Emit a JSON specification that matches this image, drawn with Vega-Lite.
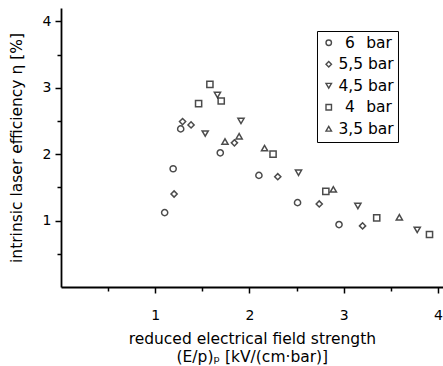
{
  "$schema": "https://vega.github.io/schema/vega-lite/v6.json",
  "width": 381.7,
  "height": 279,
  "autosize": "none",
  "padding": {"left": 61, "top": 8, "right": 0, "bottom": 79},
  "config": {
    "view": {"stroke": null},
    "font": "DejaVu Sans",
    "axis": {
      "domainColor": "black", "domainWidth": 1.8, "tickColor": "black", "tickWidth": 1.5,
      "labelColor": "black", "titleColor": "black", "labelFontSize": 14, "titleFontSize": 15.5,
      "titleFontWeight": "normal", "grid": false, "labelPadding": 4, "format": "d"
    }
  },
  "data": {"values": [
    {"E": 1.10, "eta": 1.12, "series": "\u200b\u2008\u200a6\u2008\u200a bar"},
    {"E": 1.19, "eta": 1.78, "series": "\u200b\u2008\u200a6\u2008\u200a bar"},
    {"E": 1.27, "eta": 2.38, "series": "\u200b\u2008\u200a6\u2008\u200a bar"},
    {"E": 1.69, "eta": 2.02, "series": "\u200b\u2008\u200a6\u2008\u200a bar"},
    {"E": 2.10, "eta": 1.68, "series": "\u200b\u2008\u200a6\u2008\u200a bar"},
    {"E": 2.51, "eta": 1.27, "series": "\u200b\u2008\u200a6\u2008\u200a bar"},
    {"E": 2.95, "eta": 0.94, "series": "\u200b\u2008\u200a6\u2008\u200a bar"},
    {"E": 1.20, "eta": 1.40, "series": "5,5 bar"},
    {"E": 1.29, "eta": 2.49, "series": "5,5 bar"},
    {"E": 1.38, "eta": 2.44, "series": "5,5 bar"},
    {"E": 1.84, "eta": 2.17, "series": "5,5 bar"},
    {"E": 2.30, "eta": 1.66, "series": "5,5 bar"},
    {"E": 2.74, "eta": 1.25, "series": "5,5 bar"},
    {"E": 3.20, "eta": 0.92, "series": "5,5 bar"},
    {"E": 1.53, "eta": 2.31, "series": "4,5 bar"},
    {"E": 1.66, "eta": 2.89, "series": "4,5 bar"},
    {"E": 1.91, "eta": 2.50, "series": "4,5 bar"},
    {"E": 2.52, "eta": 1.72, "series": "4,5 bar"},
    {"E": 3.15, "eta": 1.22, "series": "4,5 bar"},
    {"E": 3.78, "eta": 0.86, "series": "4,5 bar"},
    {"E": 1.46, "eta": 2.76, "series": "\u200b\u2008\u200a4\u2008\u200a bar"},
    {"E": 1.58, "eta": 3.05, "series": "\u200b\u2008\u200a4\u2008\u200a bar"},
    {"E": 1.70, "eta": 2.80, "series": "\u200b\u2008\u200a4\u2008\u200a bar"},
    {"E": 2.25, "eta": 2.00, "series": "\u200b\u2008\u200a4\u2008\u200a bar"},
    {"E": 2.81, "eta": 1.44, "series": "\u200b\u2008\u200a4\u2008\u200a bar"},
    {"E": 3.35, "eta": 1.04, "series": "\u200b\u2008\u200a4\u2008\u200a bar"},
    {"E": 3.91, "eta": 0.79, "series": "\u200b\u2008\u200a4\u2008\u200a bar"},
    {"E": 1.74, "eta": 2.19, "series": "3,5 bar"},
    {"E": 1.89, "eta": 2.27, "series": "3,5 bar"},
    {"E": 2.16, "eta": 2.09, "series": "3,5 bar"},
    {"E": 2.89, "eta": 1.47, "series": "3,5 bar"},
    {"E": 3.59, "eta": 1.05, "series": "3,5 bar"}
  ]},
  "mark": {"type": "point", "filled": false, "stroke": "black", "strokeWidth": 1.5, "size": 38},
  "encoding": {
    "x": {
      "field": "E", "type": "quantitative",
      "scale": {"domain": [0, 4.05], "nice": false, "zero": false},
      "axis": {
        "title": ["reduced electrical field strength", "(E/p)\u209a [kV/(cm\u00b7bar)]"],
        "values": [0.5, 1, 1.5, 2, 2.5, 3, 3.5, 4],
        "labelExpr": "datum.value % 1 === 0 ? datum.label : ''",
        "tickSize": {"condition": {"test": "datum.value % 1 === 0", "value": 6}, "value": 4},
        "labelPadding": 16,
        "titlePadding": 9,
        "titleLineHeight": 18
      }
    },
    "y": {
      "field": "eta", "type": "quantitative",
      "scale": {"domain": [0, 4.2], "nice": false, "zero": false},
      "axis": {
        "title": "intrinsic laser efficiency \u03b7 [%]",
        "values": [0.5, 1, 1.5, 2, 2.5, 3, 3.5, 4],
        "labelExpr": "datum.value % 1 === 0 ? datum.label : ''",
        "tickSize": {"condition": {"test": "datum.value % 1 === 0", "value": 6}, "value": 4},
        "titlePadding": 18
      }
    },
    "shape": {
      "field": "series", "type": "nominal",
      "scale": {
        "domain": ["\u200b\u2008\u200a6\u2008\u200a bar", "5,5 bar", "4,5 bar", "\u200b\u2008\u200a4\u2008\u200a bar", "3,5 bar"],
        "range": ["circle", "diamond", "triangle-down", "square", "triangle-up"]
      },
      "legend": {
        "title": null, "orient": "none", "legendX": 256, "legendY": 23,
        "strokeColor": "black", "padding": 4, "labelFontSize": 15.5, "labelColor": "black",
        "rowPadding": 4.5, "symbolSize": 30, "symbolStrokeColor": "black",
        "symbolStrokeWidth": 1.4, "symbolFillColor": "transparent", "labelOffset": 2
      }
    }
  }
}
